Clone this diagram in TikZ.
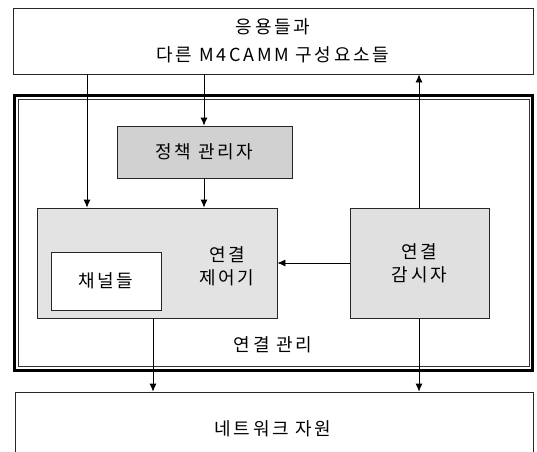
\documentclass[tikz,border=0pt]{standalone}
\usepackage{fontspec}
\newfontfamily\kr[LetterSpace=15]{Noto Sans CJK KR}
\usetikzlibrary{arrows.meta}
\begin{document}
\begin{tikzpicture}[x=1pt,y=-1pt,
  box/.style={draw=black!85, line width=0.8pt, inner sep=0pt, align=center, font=\kr\fontsize{18}{23}\selectfont},
  arr/.style={draw=black, line width=0.8pt, -{Latex[length=8pt,width=7pt]}},
  lbl/.style={inner sep=0pt, align=center, font=\kr\fontsize{18}{23}\selectfont}]
\useasboundingbox[fill=white] (0,0) rectangle (537,451);
% top box
\node[box, minimum width=520pt, minimum height=66pt] (apps) at (273,41) {};
\node[lbl, font=\kr\fontsize{18}{28}\selectfont] (appstext) at (273,41) {응용들과\\다른 M4CAMM 구성요소들};
% frame
\draw[line width=3pt, draw=black] (14.5,95.5) rectangle (532.5,370);
\draw[line width=0.8pt, draw=black!80] (18,99) rectangle (529,366);
\node[lbl] (cm) at (273,345) {연결 관리};
% policy manager
\node[box, fill=black!18, minimum width=175pt, minimum height=52pt] (pm) at (204.5,152) {정책 관리자};
% connection controller
\node[box, fill=black!11, minimum width=240pt, minimum height=110pt] (cc) at (157,263) {};
\node[lbl] (cctext) at (227,266) {연결\\제어기};
% channels
\node[box, fill=white, minimum width=110pt, minimum height=58pt] (ch) at (106,281) {채널들};
% connection monitor
\node[box, fill=black!12, minimum width=139pt, minimum height=110pt] (mon) at (419.5,263) {연결\\감시자};
% network resources
\node[box, minimum width=518pt, minimum height=80pt] (net) at (274,432) {};
\node[lbl] (nettext) at (273,429) {네트워크 자원};
% helper coordinates
\coordinate (xa) at (87,0);
\coordinate (xb) at (204,0);
\coordinate (xc) at (153,0);
\coordinate (xd) at (419,0);
% connectors
\draw[arr] (apps.south -| xa) -- (cc.north -| xa);
\draw[arr] (apps.south -| xb) -- (pm.north -| xb);
\draw[arr] (pm.south -| xb) -- (cc.north -| xb);
\draw[arr] (mon.north -| xd) -- (apps.south -| xd);
\draw[arr] (mon.west) -- (cc.east |- mon.west);
\draw[arr] (cc.south -| xc) -- (net.north -| xc);
\draw[arr] (mon.south -| xd) -- (net.north -| xd);
\end{tikzpicture}
\end{document}
